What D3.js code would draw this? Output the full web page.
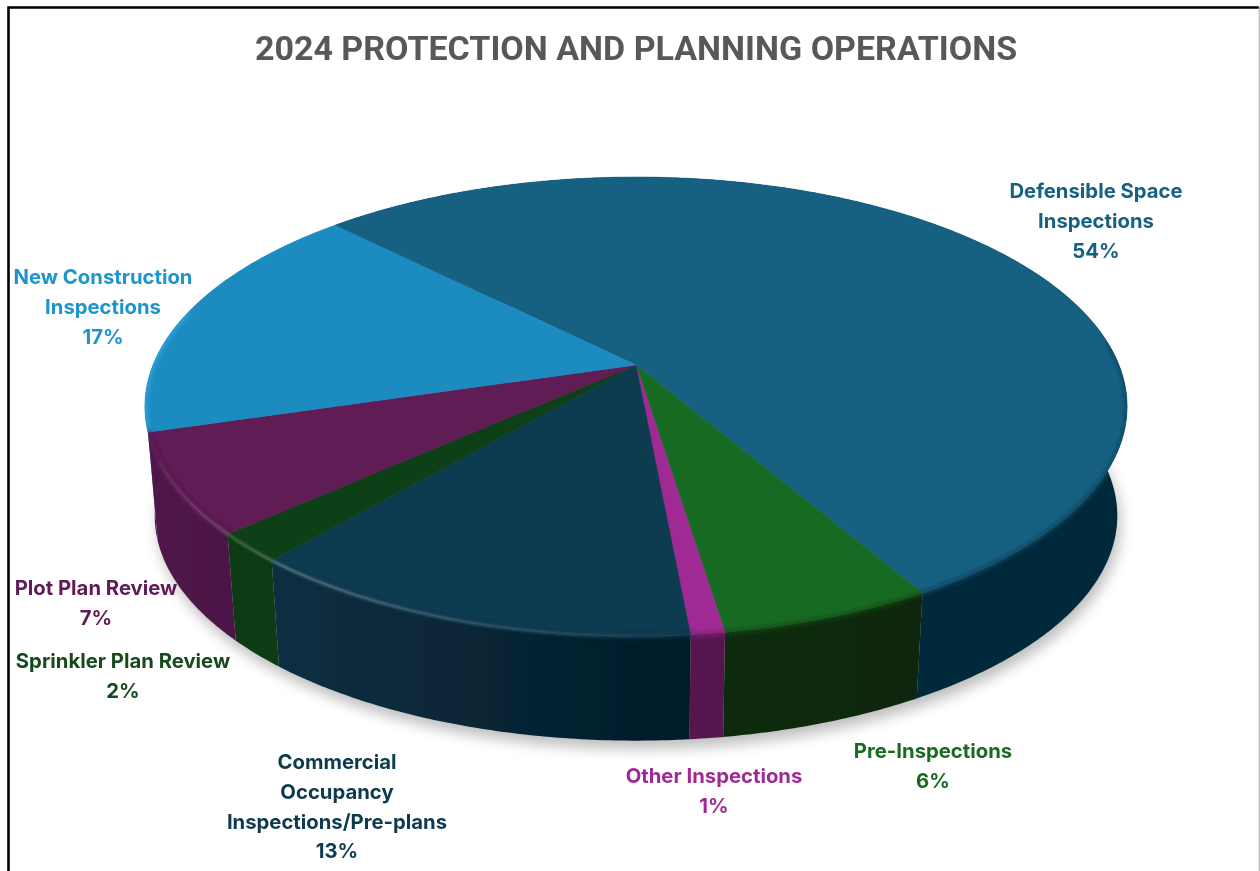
<!DOCTYPE html>
<html>
<head>
<meta charset="utf-8">
<script src="https://cdn.jsdelivr.net/npm/d3@7"></script>
<style>
  html, body { margin: 0; padding: 0; background: #fff; }
  svg { display: block; }
  text { font-family: Inter, "Open Sans", sans-serif; font-weight: 700; text-anchor: middle; }
</style>
</head>
<body>
<div id="chart"></div>
<script>
// values, the slices are not quite whole percents
var title = "2024 PROTECTION AND PLANNING OPERATIONS";
var categories = ["Defensible Space Inspections", "Pre-Inspections", "Other Inspections",
  "Commercial Occupancy Inspections/Pre-plans", "Sprinkler Plan Review", "Plot Plan Review", "New Construction Inspections"];
var percents = [54.08, 5.92, 0.94, 12.75, 2.06, 7.03, 17.22];

// label line breaks, same order as categories
var labelLines = [
  ["Defensible Space", "Inspections"],
  ["Pre-Inspections"],
  ["Other Inspections"],
  ["Commercial", "Occupancy", "Inspections/Pre-plans"],
  ["Sprinkler Plan Review"],
  ["Plot Plan Review"],
  ["New Construction", "Inspections"]
];

// styles
var topColors = ["#156082", "#196b24", "#a02b93", "#0c3a50", "#114017", "#5f1a55", "#1e8bc0"];
var wallLeft = ["#06293a", "#0b2c0e", "#56174e", "#0a2f42", "#0f3a14", "#51194b", "#2aa3de"];
var wallRight = ["#06293a", "#0a270c", "#56174e", "#041c28", "#0f3a14", "#4b1745", "#2aa3de"];
var textColors = ["#156082", "#196b24", "#a02b93", "#0d3a4e", "#154a1d", "#5f1a55", "#1f95cd"];
var labelX = [1096, 933, 714, 337, 123, 96, 103];
var labelY = [198, 758, 783, 769, 668, 595, 284];

var svgWidth = 1260, svgHeight = 871;

// pie geometry: a tilted disc, seen in perspective
var cx = 636, cy = 365;
var persp = 0.181, radX = 483, radY = 222;
var wallDrop = 110, wallShrink = 0.98;
var startAt = -44.7 * Math.PI / 180;

function project(a, level) {
  var u = Math.sin(a), v = Math.cos(a);
  var w = 1 + persp * v;
  var k = level ? wallShrink : 1;
  return [cx + k * radX * u / w, cy + (level ? wallDrop : 0) - k * radY * v / w];
}

function arcAngles(a0, a1) {
  var n = Math.max(2, Math.ceil(Math.abs(a1 - a0) / 0.01));
  return d3.range(n + 1).map(function(i) { return a0 + (a1 - a0) * i / n; });
}

var line = d3.line();

function topPath(d) {
  var pts = arcAngles(d.startAngle, d.endAngle).map(function(a) { return project(a, 0); });
  return line([[cx, cy]].concat(pts)) + "Z";
}
function rimPath(a0, a1) {
  return line(arcAngles(a0, a1).map(function(a) { return project(a, 0); }));
}
function wallPath(d) {
  var upper = arcAngles(d.startAngle, d.endAngle).map(function(a) { return project(a, 0); });
  var lower = arcAngles(d.endAngle, d.startAngle).map(function(a) { return project(a, 1); });
  return line(upper.concat(lower)) + "Z";
}

var svg = d3.select("#chart").append("svg")
  .attr("width", svgWidth)
  .attr("height", svgHeight);

var defs = svg.append("defs");
[["shadowBlur", 7], ["rimBlur", 2], ["lightBlur", 1.1], ["softBlur", 0.5]].forEach(function(f) {
  defs.append("filter").attr("id", f[0])
    .attr("filterUnits", "userSpaceOnUse")
    .attr("x", 0).attr("y", 0).attr("width", svgWidth).attr("height", svgHeight)
    .append("feGaussianBlur").attr("stdDeviation", f[1]);
});

// one left to right gradient per wall
categories.slice(0, 6).forEach(function(c, i) {
  var g = defs.append("linearGradient").attr("id", "wall" + i);
  g.append("stop").attr("offset", 0).attr("stop-color", wallLeft[i]);
  g.append("stop").attr("offset", 1).attr("stop-color", wallRight[i]);
});

// the blue wall is only a sliver that runs out into the purple one
var blueWall = defs.append("linearGradient").attr("id", "wall6")
  .attr("x1", 0).attr("x2", 0).attr("y1", 0).attr("y2", 1);
blueWall.append("stop").attr("offset", 0.8).attr("stop-color", wallLeft[6]);
blueWall.append("stop").attr("offset", 0.92).attr("stop-color", wallLeft[5]);

// rim highlight fades out towards the right
var rimLight = defs.append("linearGradient").attr("id", "rimLight")
  .attr("gradientUnits", "userSpaceOnUse")
  .attr("x1", 150).attr("x2", 700).attr("y1", 0).attr("y2", 0);
rimLight.append("stop").attr("offset", 0).attr("stop-color", "#fff").attr("stop-opacity", 0.04);
rimLight.append("stop").attr("offset", 0.25).attr("stop-color", "#fff").attr("stop-opacity", 0.28);
rimLight.append("stop").attr("offset", 1).attr("stop-color", "#fff").attr("stop-opacity", 0.02);

// frame of the pasted picture
svg.append("path").attr("d", d3.line()([[8.5, svgHeight], [8.5, 7.5], [1259, 7.5]]))
  .attr("fill", "none").attr("stroke", "#000").attr("stroke-width", 2.6);
svg.append("line").attr("x1", 1259.3).attr("x2", 1259.3).attr("y1", 7).attr("y2", svgHeight)
  .attr("stroke", "#bdbdbd").attr("stroke-width", 1.4);

var pie = d3.pie().sort(null).value(function(d) { return d; })
  .startAngle(startAt).endAngle(2 * Math.PI + startAt);
var slices = pie(percents);

// keeps the blurred rims inside the outline of the disc
var clip = defs.append("clipPath").attr("id", "discClip");
slices.forEach(function(d) {
  clip.append("path").attr("d", topPath(d));
  clip.append("path").attr("d", wallPath(d));
});

var chart = svg.append("g").attr("filter", "url(#softBlur)");

// soft shadow on the floor
chart.append("path")
  .attr("d", line(arcAngles(0, 2 * Math.PI).map(function(a) {
    var p = project(a, 1);
    return [p[0] + 3, p[1] + 8];
  })) + "Z")
  .attr("fill", "#000")
  .attr("opacity", 0.26)
  .attr("filter", "url(#shadowBlur)");

// walls, the far left one first so the front ones sit on it
[6, 0, 1, 2, 3, 4, 5].forEach(function(i) {
  chart.append("path")
    .attr("d", wallPath(slices[i]))
    .attr("fill", "url(#wall" + i + ")");
});

// top faces
chart.selectAll("path.top")
  .data(slices)
  .enter()
  .append("path")
  .attr("class", "top")
  .attr("d", topPath)
  .attr("fill", function(d, i) { return topColors[i]; })
  .attr("stroke", function(d, i) { return topColors[i]; })
  .attr("stroke-width", 0.5);

var rims = chart.append("g").attr("clip-path", "url(#discClip)");

// soft edge between the top face and the wall
slices.slice(0, 6).forEach(function(d, i) {
  rims.append("path")
    .attr("d", rimPath(Math.max(d.startAngle, Math.PI / 2 - 0.1), d.endAngle))
    .attr("fill", "none")
    .attr("stroke", d3.interpolateRgb(topColors[i], wallLeft[i])(0.5))
    .attr("stroke-width", 4)
    .attr("filter", "url(#rimBlur)");
});

// the blue slice has a brighter rim on its far left
rims.append("path")
  .attr("d", rimPath(slices[6].startAngle + 0.02, slices[6].startAngle + 0.55))
  .attr("fill", "none")
  .attr("stroke", wallLeft[6])
  .attr("stroke-width", 5)
  .attr("filter", "url(#rimBlur)");

// highlight along the front left edge
rims.append("path")
  .attr("d", rimPath(slices[3].startAngle + 0.02, slices[5].endAngle - 0.12))
  .attr("fill", "none")
  .attr("stroke", "url(#rimLight)")
  .attr("stroke-width", 3)
  .attr("filter", "url(#lightBlur)");

// title and labels
var texts = svg.append("g").attr("filter", "url(#softBlur)");

texts.append("text")
  .attr("x", cx)
  .attr("y", 60)
  .attr("font-size", 34)
  .style("font-family", "Roboto, sans-serif")
  .attr("fill", "#595959")
  .text(title);

var labels = texts.selectAll("g.label")
  .data(categories)
  .enter()
  .append("g")
  .attr("class", "label")
  .attr("fill", function(d, i) { return textColors[i]; })
  .attr("font-size", 20.3);

labels.each(function(d, i) {
  var rows = labelLines[i].concat([Math.round(percents[i]) + "%"]);
  d3.select(this).selectAll("text")
    .data(rows)
    .enter()
    .append("text")
    .attr("x", labelX[i])
    .attr("y", function(r, j) { return labelY[i] + j * 29.8; })
    .text(function(r) { return r; });
});
</script>
</body>
</html>
